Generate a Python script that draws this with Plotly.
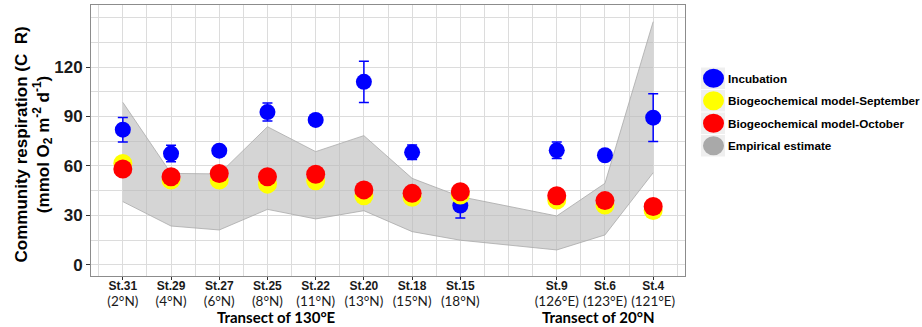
import plotly.graph_objects as go

# Stations along the two transects (x = 9 is left empty as a gap between transects)
stations = ["St.31", "St.29", "St.27", "St.25", "St.22", "St.20", "St.18", "St.15",
            "St.9", "St.6", "St.4"]
positions = ["(2°N)", "(4°N)", "(6°N)", "(8°N)", "(11°N)", "(13°N)", "(15°N)", "(18°N)",
             "(126°E)", "(123°E)", "(121°E)"]
x_pos = [1, 2, 3, 4, 5, 6, 7, 8, 10, 11, 12]

# Community respiration, mmol O2 m-2 d-1
incubation = [82, 67.5, 69.3, 92.7, 87.9, 111, 68.3, 36, 69.5, 66.5, 89.3]
incubation_sd = [7.4, 5, 2.5, 5.5, 2.5, 12.5, 4.4, 7.5, 5, 3, 14.5]
model_sep = [61.5, 51.5, 51.5, 49, 51, 42, 41, 42.4, 39.4, 36.4, 33]
model_oct = [58.2, 53.5, 55.5, 53.5, 55, 45.5, 43.4, 44.4, 42, 39, 35.4]
empirical_low = [38.4, 23.6, 21.2, 33.7, 27.9, 32.9, 20.2, 15.0, 9.1, 18.2, 55.9]
empirical_high = [98.6, 55.5, 55.2, 83.8, 68.7, 78.4, 52.5, 41.4, 29.7, 49.5, 147.5]

y_ticks = [0, 30, 60, 90, 120]

legend_items = [
    ("Incubation", "#0000ff"),
    ("Biogeochemical model-September", "#ffff00"),
    ("Biogeochemical model-October", "#ff0000"),
    ("Empirical estimate", "#a9a9a9"),
]

SANS = "Liberation Sans, Arial, sans-serif"
NARROW = "Lato, sans-serif"

fig = go.Figure()

# Empirical estimate band
fig.add_trace(go.Scatter(x=x_pos, y=empirical_low, mode="lines",
                         line=dict(color="rgba(170,170,170,0.8)", width=1),
                         showlegend=False, hoverinfo="skip"))
fig.add_trace(go.Scatter(x=x_pos, y=empirical_high, mode="lines", fill="tonexty",
                         fillcolor="rgba(185,185,185,0.6)",
                         line=dict(color="rgba(170,170,170,0.8)", width=1),
                         showlegend=False, hoverinfo="skip"))

# Incubation measurements with error bars
fig.add_trace(go.Scatter(x=x_pos, y=incubation, mode="markers",
                         marker=dict(color="#0000ff", size=16, line=dict(width=0)),
                         error_y=dict(type="data", array=incubation_sd, color="#0000ff",
                                      thickness=1.5, width=5),
                         showlegend=False))

# Biogeochemical model estimates
fig.add_trace(go.Scatter(x=x_pos, y=model_sep, mode="markers",
                         marker=dict(color="#ffff00", size=19, line=dict(width=0)),
                         showlegend=False))
fig.add_trace(go.Scatter(x=x_pos, y=model_oct, mode="markers",
                         marker=dict(color="#ff0000", size=19, line=dict(width=0)),
                         showlegend=False))

tick_text = [f"{s}<br><span style='font-family:{NARROW};font-size:13.5px;font-weight:normal'>{p}</span>"
             for s, p in zip(stations, positions)]

grid_col = "#dcdcdc"
fig.update_layout(
    width=922, height=327,
    margin=dict(l=91, r=237, t=5, b=51),
    paper_bgcolor="white", plot_bgcolor="white",
    xaxis=dict(range=[0.34, 12.66], tickmode="array", tickvals=x_pos, ticktext=tick_text,
               tickangle=0, automargin=False, ticklabelstandoff=-4,
               tickfont=dict(family=SANS, size=12, color="#1a1a1a", weight="bold"),
               ticks="outside", ticklen=3, tickcolor="#333333",
               showgrid=True, gridcolor=grid_col, gridwidth=1,
               minor=dict(tickmode="array",
                          tickvals=[0.5 + i for i in range(13)] + [9],
                          showgrid=True, gridcolor=grid_col, gridwidth=1, ticks=""),
               showline=True, mirror=True, linecolor="#8c8c8c", linewidth=1,
               zeroline=False, fixedrange=True),
    yaxis=dict(range=[-6.7, 157.6], tickmode="array", tickvals=y_ticks, automargin=False,
               tickfont=dict(family=SANS, size=17, color="#1a1a1a", weight="bold"),
               ticks="outside", ticklen=4, tickcolor="#333333",
               showgrid=True, gridcolor=grid_col, gridwidth=1,
               minor=dict(tickmode="array", tickvals=[15, 45, 75, 105, 135, 150],
                          showgrid=True, gridcolor=grid_col, gridwidth=1, ticks=""),
               showline=True, mirror=True, linecolor="#8c8c8c", linewidth=1,
               zeroline=False, fixedrange=True),
    font=dict(family=SANS, color="#000000"),
)

annotations = [
    dict(text="Community respiration (C  R)<br>(mmol O<sub>2</sub> m<sup>-2</sup> d<sup>-1</sup>)",
         textangle=-90, xref="paper", yref="paper", x=0, y=0.5,
         xanchor="center", yanchor="middle", xshift=-58, yshift=-4, showarrow=False,
         font=dict(family=SANS, size=17, color="#000000", weight="bold")),
    dict(text="Transect of 130°E", xref="x", yref="paper", x=4.18, y=0,
         xanchor="center", yanchor="middle", yshift=-41, showarrow=False,
         font=dict(family=NARROW, size=15, color="#000000", weight="bold")),
    dict(text="Transect of 20°N", xref="x", yref="paper", x=10.86, y=0,
         xanchor="center", yanchor="middle", yshift=-41, showarrow=False,
         font=dict(family=NARROW, size=15, color="#000000", weight="bold")),
]

# Legend drawn as key boxes with circles and labels to the right of the panel
shapes = []
key_top = -62  # pixels relative to the panel top
key_h = 22.5
for i, (label, col) in enumerate(legend_items):
    y_hi = key_top - i * key_h
    y_lo = y_hi - key_h
    y_mid = (y_hi + y_lo) / 2
    shapes.append(dict(type="rect", xref="paper", yref="paper",
                       xsizemode="pixel", ysizemode="pixel", xanchor=1, yanchor=1,
                       x0=16, x1=40, y0=y_lo + 0.5, y1=y_hi - 0.5,
                       fillcolor="#efefef", line=dict(width=0), layer="below"))
    shapes.append(dict(type="circle", xref="paper", yref="paper",
                       xsizemode="pixel", ysizemode="pixel", xanchor=1, yanchor=1,
                       x0=18, x1=39, y0=y_mid - 9.5, y1=y_mid + 9.5,
                       fillcolor=col, line=dict(width=0)))
    annotations.append(dict(text=label, xref="paper", yref="paper", x=1, y=1,
                            xanchor="left", yanchor="middle", xshift=41, yshift=y_mid,
                            showarrow=False,
                            font=dict(family=SANS, size=11.7, color="#000000", weight="bold")))

fig.update_layout(annotations=annotations, shapes=shapes)

fig.write_html("out.html")
